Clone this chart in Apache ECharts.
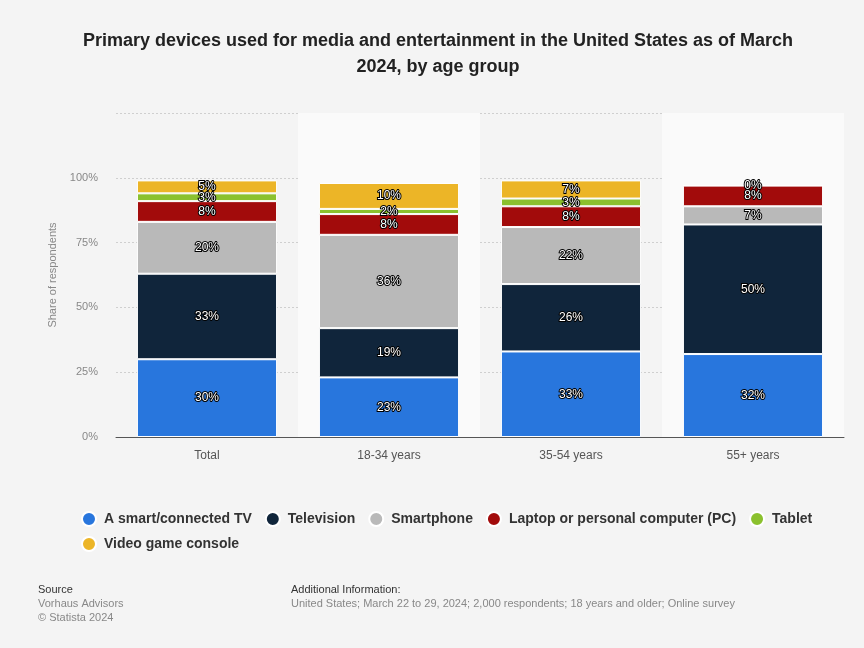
<!DOCTYPE html>
<html>
<head>
<meta charset="utf-8">
<script src="https://cdn.jsdelivr.net/npm/echarts@6/dist/echarts.min.js"></script>
<style>
  html, body { margin: 0; padding: 0; background: #f4f4f4; }
  #chart { width: 864px; height: 648px; }
</style>
</head>
<body>
<div id="chart"></div>
<script>
// Age groups on the x axis
const categories = ['Total', '18-34 years', '35-54 years', '55+ years'];

// Share of respondents (%) per device, one array per stacked segment
const smartTv = [30, 23, 33, 32];
const television = [33, 19, 26, 50];
const smartphone = [20, 36, 22, 7];
const laptopPc = [8, 8, 8, 8];
const tablet = [3, 2, 3, null];
const gameConsole = [5, 10, 7, 0];

const seriesNames = ['A smart/connected TV', 'Television', 'Smartphone',
  'Laptop or personal computer (PC)', 'Tablet', 'Video game console'];
const seriesColors = ['#2876dd', '#10253b', '#b9b9b9', '#a20b0b', '#8bc12e', '#ecb527'];
const seriesValues = [smartTv, television, smartphone, laptopPc, tablet, gameConsole];

const yTicks = [0, 25, 50, 75, 100, 125];

const FONT = 'Liberation Sans, Arial, sans-serif';

const chart = echarts.init(document.getElementById('chart'));

const series = seriesNames.map((name, i) => ({
  name: name,
  type: 'bar',
  stack: 'share',
  barWidth: '77%',
  data: seriesValues[i],
  itemStyle: { color: seriesColors[i], borderColor: '#ffffff', borderWidth: 1 },
  label: {
    show: true,
    position: 'inside',
    formatter: p => (p.value == null ? '' : p.value + '%'),
    color: '#ffffff',
    fontFamily: FONT,
    fontSize: 12,
    textBorderColor: '#000000',
    textBorderWidth: 2
  },
  emphasis: { disabled: true }
}));

const legendText = {
  fontFamily: FONT,
  fontSize: 14,
  fontWeight: 'bold',
  color: '#333333',
  padding: [0, 0, 0, 3]
};

chart.setOption({
  backgroundColor: '#f4f4f4',
  animation: false,
  title: {
    text: 'Primary devices used for media and entertainment in the United States as of March\n2024, by age group',
    left: 433,
    top: 23,
    textAlign: 'center',
    textStyle: {
      fontFamily: FONT,
      fontSize: 18,
      fontWeight: 'bold',
      color: '#222222',
      lineHeight: 26
    }
  },
  legend: [
    {
      left: 76,
      top: 506,
      icon: 'circle',
      itemWidth: 14,
      itemHeight: 14,
      itemGap: 13,
      selectedMode: false,
      textStyle: legendText,
      data: seriesNames.slice(0, 5)
    },
    {
      left: 76,
      top: 531,
      icon: 'circle',
      itemWidth: 14,
      itemHeight: 14,
      itemGap: 13,
      selectedMode: false,
      textStyle: legendText,
      data: seriesNames.slice(5)
    }
  ],
  grid: { left: 116, right: 20, top: 113, bottom: 211 },
  xAxis: {
    type: 'category',
    data: categories,
    axisTick: { show: false },
    axisLine: { lineStyle: { color: '#555555', width: 1 } },
    axisLabel: {
      color: '#555555',
      fontFamily: FONT,
      fontSize: 12,
      margin: 13
    },
    splitArea: { show: true, areaStyle: { color: ['rgba(0,0,0,0)', '#fafafa'] } }
  },
  yAxis: {
    type: 'value',
    min: 0,
    max: yTicks[yTicks.length - 1],
    interval: 25,
    name: 'Share of respondents',
    nameLocation: 'middle',
    nameGap: 51,
    nameTextStyle: {
      color: '#888888',
      fontFamily: FONT,
      fontSize: 11
    },
    axisLabel: {
      color: '#888888',
      fontFamily: FONT,
      fontSize: 11,
      margin: 18,
      formatter: v => (v > 100 ? '' : v + '%')
    },
    axisLine: { show: false },
    axisTick: { show: false },
    splitLine: { lineStyle: { color: '#cfcfcf', type: [2, 2], width: 1 } }
  },
  series: series,
  graphic: [
    { type: 'text', left: 38, top: 584, style: { text: 'Source', fill: '#333333', font: '11px ' + FONT } },
    { type: 'text', left: 38, top: 598, style: { text: 'Vorhaus Advisors', fill: '#888888', font: '11px ' + FONT } },
    { type: 'text', left: 38, top: 612, style: { text: '\u00a9 Statista 2024', fill: '#888888', font: '11px ' + FONT } },
    { type: 'text', left: 291, top: 584, style: { text: 'Additional Information:', fill: '#333333', font: '11px ' + FONT } },
    { type: 'text', left: 291, top: 598, style: { text: 'United States; March 22 to 29, 2024; 2,000 respondents; 18 years and older; Online survey', fill: '#888888', font: '11px ' + FONT } }
  ]
});
</script>
</body>
</html>
